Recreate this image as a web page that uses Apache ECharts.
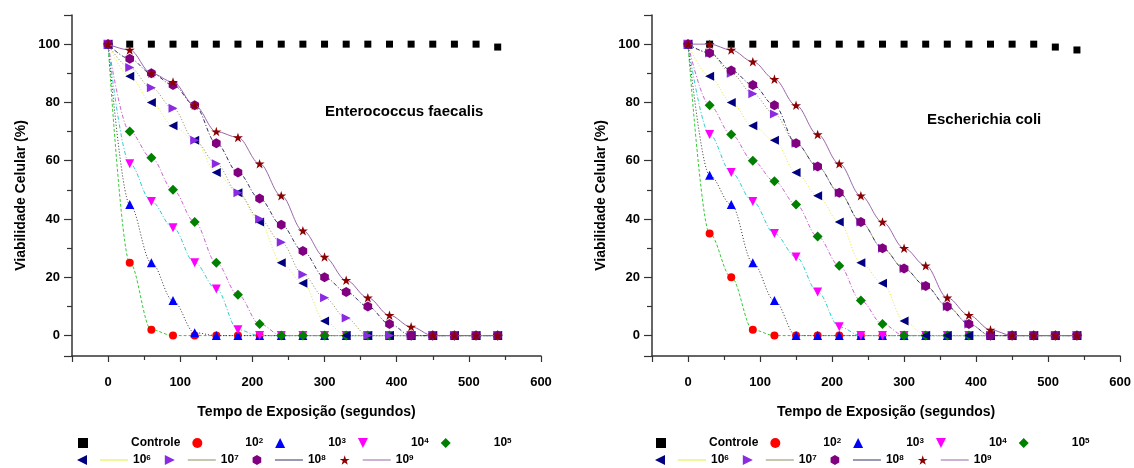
<!DOCTYPE html>
<html><head><meta charset="utf-8">
<script src="https://cdn.jsdelivr.net/npm/echarts@6/dist/echarts.min.js"></script>
<style>html,body{margin:0;padding:0;background:#fff}#c{width:1134px;height:468px}</style>
</head><body><div id="c"></div>
<script>
// ---------- data ----------
const times = [0,30,60,90,120,150,180,210,240,270,300,330,360,390,420,450,480,510,540];
const seriesNames = ['Controle','10²','10³','10⁴','10⁵','10⁶','10⁷','10⁸','10⁹'];
const xTickLabels = [0,100,200,300,400,500,600];
const yTickLabels = [0,20,40,60,80,100];
const panelTitles = ['Enterococcus faecalis','Escherichia coli'];

// Enterococcus faecalis
const efControle = [100,100,100,100,100,100,100,100,100,100,100,100,100,100,100,100,100,100,99];
const ef1e2 = [100,25,2,0,0,0,0,0,0,0,0,0,0,0,0,0,0,0,0];
const ef1e3 = [100,45,25,12,1,0,0,0,0,0,0,0,0,0,0,0,0,0,0];
const ef1e4 = [100,59,46,37,25,16,2,0,0,0,0,0,0,0,0,0,0,0,0];
const ef1e5 = [100,70,61,50,39,25,14,4,0,0,0,0,0,0,0,0,0,0,0];
const ef1e6 = [100,89,80,72,67,56,49,39,25,18,5,0,0,0,0,0,0,0,0];
const ef1e7 = [100,92,85,78,67,59,49,40,32,21,13,6,0,0,0,0,0,0,0];
const ef1e8 = [100,95,90,86,79,66,56,47,38,29,20,15,10,4,0,0,0,0,0];
const ef1e9 = [100,98,90,87,79,70,68,59,48,36,27,19,13,7,3,0,0,0,0];

// Escherichia coli
const ecControle = [100,100,100,100,100,100,100,100,100,100,100,100,100,100,100,100,100,99,98];
const ec1e2 = [100,35,20,2,0,0,0,0,0,0,0,0,0,0,0,0,0,0,0];
const ec1e3 = [100,55,45,25,12,0,0,0,0,0,0,0,0,0,0,0,0,0,0];
const ec1e4 = [100,69,56,46,35,27,15,3,0,0,0,0,0,0,0,0,0,0,0];
const ec1e5 = [100,79,69,60,53,45,34,24,12,4,0,0,0,0,0,0,0,0,0];
const ec1e6 = [100,89,80,72,67,56,48,39,25,18,5,0,0,0,0,0,0,0,0];
const ec1e7 = [100,97,90,83,76,66,58,49,39,30,23,17,10,4,0,0,0,0,0];
const ec1e8 = [100,97,91,86,79,66,58,49,39,30,23,17,10,4,0,0,0,0,0];
const ec1e9 = [100,100,98,94,88,79,69,59,48,39,30,24,13,7,2,0,0,0,0];

const panelData = [
  [efControle, ef1e2, ef1e3, ef1e4, ef1e5, ef1e6, ef1e7, ef1e8, ef1e9],
  [ecControle, ec1e2, ec1e3, ec1e4, ec1e5, ec1e6, ec1e7, ec1e8, ec1e9]
];

// ---------- styles ----------
const HEX = 'path://M0,-1 L0.866,-0.5 L0.866,0.5 L0,1 L-0.866,0.5 L-0.866,-0.5 Z';
const STAR = 'path://M0,-1 L0.2245,-0.309 L0.951,-0.309 L0.363,0.118 L0.588,0.809 L0,0.382 L-0.588,0.809 L-0.363,0.118 L-0.951,-0.309 L-0.2245,-0.309 Z';
const DOWN = 'path://M-1,-1 L1,-1 L0,1 Z';
const LEFT = 'path://M1,-1 L1,1 L-1,0 Z';
const RIGHT = 'path://M-1,-1 L-1,1 L1,0 Z';
const styles = [
  {symbol:'rect', size:7, color:'#000000', line:'#8b1a1a', type:'solid', width:0},
  {symbol:'circle', size:8, color:'#ff0000', line:'#33cc33', type:[3,2], width:1},
  {symbol:'triangle', size:9, color:'#0000ff', line:'#333333', type:[1,2], width:1},
  {symbol:DOWN, size:9, color:'#ff00ff', line:'#33cccc', type:[4,2,1,2], width:1},
  {symbol:'diamond', size:10, color:'#008000', line:'#cc66cc', type:[4,2,1,2], width:1},
  {symbol:LEFT, size:9, color:'#000080', line:'#e8e83a', type:[1,2], width:1},
  {symbol:RIGHT, size:9, color:'#8a2be2', line:'#8c8c60', type:[1,2], width:1},
  {symbol:HEX, size:10, color:'#800080', line:'#333366', type:[4,2,1,2], width:1},
  {symbol:STAR, size:10, color:'#8b0000', line:'#9966aa', type:'solid', width:1}
];
const FONT = '"Liberation Sans", Arial, sans-serif';

const grids = [
  {left:72, top:15, width:469, height:341},
  {left:652, top:15, width:469, height:341}
];

function xAxisFor(i){
  return {
    type:'value', gridIndex:i, min:-50, max:600, splitNumber:6, minInterval:100, maxInterval:100,
    axisLine:{onZero:false, lineStyle:{color:'#333', width:1.5}},
    axisTick:{length:6, lineStyle:{color:'#333', width:1.2}},
    minorTick:{show:true, splitNumber:2, length:4, lineStyle:{color:'#333', width:1.2}},
    splitLine:{show:false},
    axisLabel:{margin:20, color:'#000', fontSize:13, fontWeight:'bold', fontFamily:FONT,
      formatter:v => xTickLabels.indexOf(v) >= 0 ? String(v) : ''},
    name:'Tempo de Exposição (segundos)', nameLocation:'middle', nameGap:49,
    nameTextStyle:{color:'#000', fontSize:14, fontWeight:'bold', fontFamily:FONT}
  };
}
function yAxisFor(i){
  return {
    type:'value', gridIndex:i, min:-7, max:110, splitNumber:6, minInterval:20, maxInterval:20,
    axisLine:{onZero:false, lineStyle:{color:'#333', width:1.5}},
    axisTick:{length:8, lineStyle:{color:'#333', width:1.2}},
    minorTick:{show:true, splitNumber:2, length:5, lineStyle:{color:'#333', width:1.2}},
    splitLine:{show:false},
    axisLabel:{margin:12, color:'#000', fontSize:13, fontWeight:'bold', fontFamily:FONT,
      formatter:v => yTickLabels.indexOf(v) >= 0 ? String(v) : ''},
    name:'Viabilidade Celular (%)', nameLocation:'middle', nameGap:44,
    nameTextStyle:{color:'#000', fontSize:14, fontWeight:'bold', fontFamily:FONT, padding:[0,0,0,-20]}
  };
}

const series = [];
panelData.forEach((arrs, p) => {
  arrs.forEach((vals, k) => {
    const st = styles[k];
    series.push({
      type:'line', name:seriesNames[k], xAxisIndex:p, yAxisIndex:p,
      data: times.map((t, j) => [t, vals[j]]),
      symbol: st.symbol, symbolSize: st.size, symbolKeepAspect:true,
      showAllSymbol:true, smooth: k === 0 ? false : 0.35, smoothMonotone:'x',
      itemStyle:{color: st.color},
      lineStyle:{color: st.line, width: st.width, type: st.type, opacity: st.width ? 1 : 0},
      emphasis:{disabled:true}, z: 2 + k
    });
  });
});

const SUP = {'²':'2','³':'3','⁴':'4','⁵':'5','⁶':'6','⁷':'7','⁸':'8','⁹':'9'};
function labelRich(name, key){
  if (name === 'Controle') return '{' + key + '|Controle}';
  const d = SUP[name.charAt(2)];
  return '{' + key + '|10}{s|' + d + '}';
}
const rich = {
  t1:{fontSize:12, fontWeight:'bold', fontFamily:FONT, color:'#000', padding:[0,0,0,38]},
  t2:{fontSize:12, fontWeight:'bold', fontFamily:FONT, color:'#000', padding:[0,0,0,5]},
  s:{fontSize:8, fontWeight:'bold', fontFamily:FONT, color:'#000', verticalAlign:'top'},
  g:{width:8}
};
for (let k = 5; k <= 8; k++) {
  rich['ln' + k] = {width:28, height:1, backgroundColor: styles[k].line};
}

function legendRow1(left){
  return {
    left:left, top:437, orient:'horizontal', itemGap:12, itemWidth:10, itemHeight:10, padding:0,
    selectedMode:false,
    data: seriesNames.slice(0,5).map((n,k) => ({name:n, icon: styles[k].symbol})),
    formatter: n => labelRich(n, 't1'),
    textStyle:{rich: rich, fontSize:12, fontWeight:'bold', color:'#000'}
  };
}
function legendRow2(left){
  return {
    left:left, top:454, orient:'horizontal', itemGap:14, itemWidth:10, itemHeight:10, padding:0,
    selectedMode:false,
    data: seriesNames.slice(5).map((n,k) => ({name:n, icon: styles[k+5].symbol})),
    formatter: n => '{g|}{ln' + (seriesNames.indexOf(n)) + '|}' + labelRich(n, 't2'),
    textStyle:{rich: rich, fontSize:12, fontWeight:'bold', color:'#000'}
  };
}

const chart = echarts.init(document.getElementById('c'), null, {renderer:'canvas'});
chart.setOption({
  backgroundColor:'#fff',
  animation:false,
  title:[
    {text:panelTitles[0], left:320, top:99, textStyle:{fontSize:15, fontWeight:'bold', color:'#000', fontFamily:FONT}},
    {text:panelTitles[1], left:922, top:107, textStyle:{fontSize:15, fontWeight:'bold', color:'#000', fontFamily:FONT}}
  ],
  grid: grids,
  xAxis: [xAxisFor(0), xAxisFor(1)],
  yAxis: [yAxisFor(0), yAxisFor(1)],
  legend: [legendRow1(78), legendRow2(77), legendRow1(656), legendRow2(655)],
  series: series
});
</script></body></html>
